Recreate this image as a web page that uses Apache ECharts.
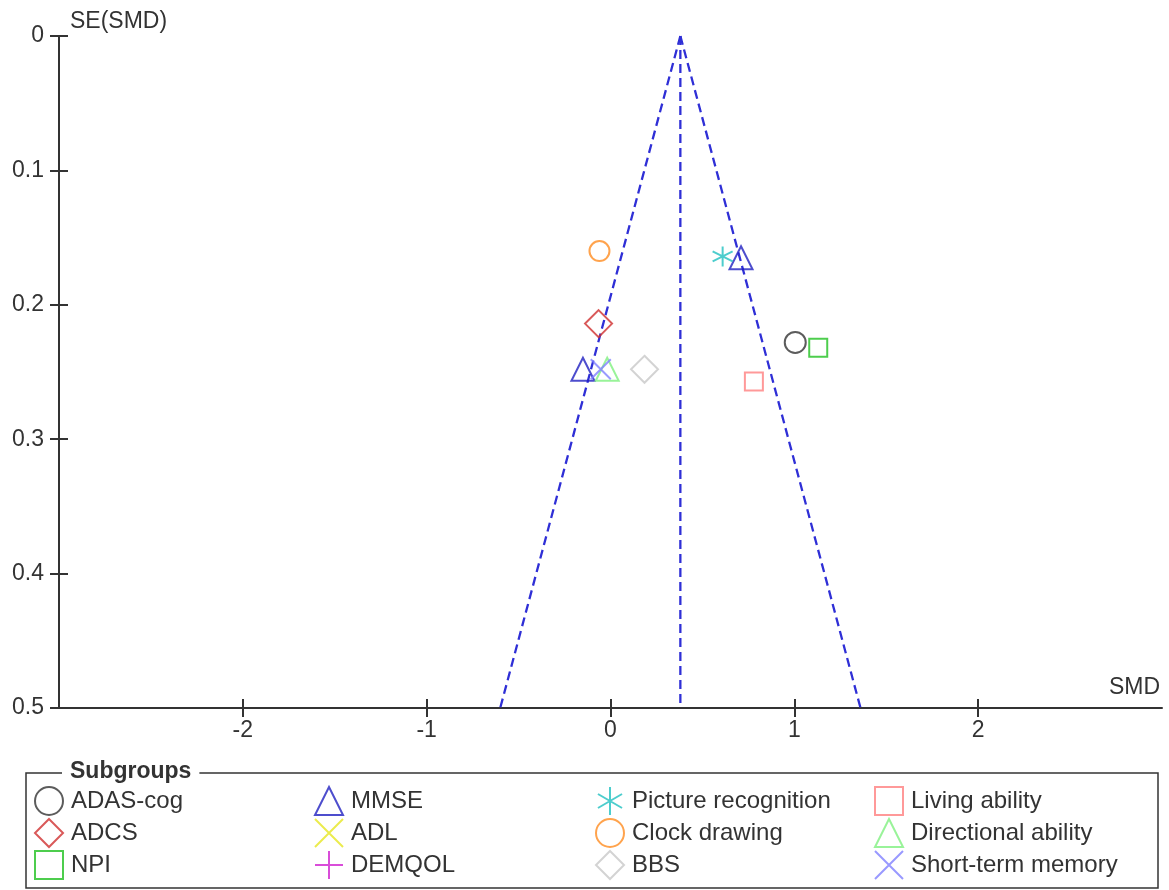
<!DOCTYPE html>
<html>
<head>
<meta charset="utf-8">
<script src="https://cdn.jsdelivr.net/npm/echarts@6/dist/echarts.min.js"></script>
<style>
html,body{margin:0;padding:0;background:#fff;}
#chart{width:1169px;height:890px;}
</style>
</head>
<body>
<div id="chart"></div>
<script>
// ---- data ----
const subgroups = ['ADAS-cog','ADCS','NPI','MMSE','ADL','DEMQOL','Picture recognition','Clock drawing','BBS','Living ability','Directional ability','Short-term memory'];
// each point: [SMD, SE(SMD)]
const adasCog = [[1.005, 0.228]];
const adcs = [[-0.065, 0.214]];
const npi = [[1.13, 0.232]];
const mmse = [[0.71, 0.165], [-0.15, 0.248]];
const adl = [];
const demqol = [];
const pictureRecognition = [[0.61, 0.164]];
const clockDrawing = [[-0.06, 0.160]];
const bbs = [[0.185, 0.248]];
const livingAbility = [[0.78, 0.257]];
const directionalAbility = [[-0.018, 0.248]];
const shortTermMemory = [[-0.053, 0.248]];

const pooledSMD = 0.38;
const funnelLeft = [[0.38, 0], [-0.60, 0.5]];
const funnelRight = [[0.38, 0], [1.36, 0.5]];
const funnelCenter = [[0.38, 0], [0.38, 0.5]];

const xTicks = [-2, -1, 0, 1, 2];
const yTicks = [0, 0.1, 0.2, 0.3, 0.4, 0.5];

// ---- styles ----
const FONT = "'Liberation Sans', Arial, sans-serif";
const TXT = '#333';
const P_ASTER = 'path://M5,0L5,10M0.7,2.5L9.3,7.5M0.7,7.5L9.3,2.5';
const P_X = 'path://M0,0L10,10M10,0L0,10';
const P_PLUS = 'path://M5,0L5,10M0,5L10,5';

const styleMap = {
  'ADAS-cog': {data: adasCog, symbol: 'circle', size: 21, color: '#333333'},
  'ADCS': {data: adcs, symbol: 'diamond', size: 27, color: '#d03030'},
  'NPI': {data: npi, symbol: 'rect', size: 18, color: '#20c020'},
  'MMSE': {data: mmse, symbol: 'triangle', size: 23, color: '#2020c0'},
  'ADL': {data: adl, symbol: P_X, size: 20, color: '#e6e620'},
  'DEMQOL': {data: demqol, symbol: P_PLUS, size: 20, color: '#d020d0'},
  'Picture recognition': {data: pictureRecognition, symbol: P_ASTER, size: 20, color: '#20c0c0'},
  'Clock drawing': {data: clockDrawing, symbol: 'circle', size: 20, color: '#ff8c20'},
  'BBS': {data: bbs, symbol: 'diamond', size: 27, color: '#c8c8c8'},
  'Living ability': {data: livingAbility, symbol: 'rect', size: 18, color: '#ff8080'},
  'Directional ability': {data: directionalAbility, symbol: 'triangle', size: 23, color: '#80f080'},
  'Short-term memory': {data: shortTermMemory, symbol: P_X, size: 20, color: '#8080ff'}
};

const series = subgroups.map(name => {
  const s = styleMap[name];
  return {
    name: name,
    type: 'scatter',
    data: s.data,
    symbol: s.symbol,
    symbolSize: s.size,
    color: s.color,
    itemStyle: {color: 'rgba(0,0,0,0)', borderColor: s.color, borderWidth: 2},
    emphasis: {disabled: true},
    z: 3
  };
});

const funnelLine = (d) => ({
  type: 'line', data: d, symbol: 'none', silent: true, z: 2,
  lineStyle: {color: '#2f2fd6', width: 2.3, type: [9, 5]}
});
series.push(funnelLine(funnelLeft), funnelLine(funnelRight), funnelLine(funnelCenter));

const legendCols = [
  {left: 34, items: subgroups.slice(0, 3)},
  {left: 314, items: subgroups.slice(3, 6)},
  {left: 595, items: subgroups.slice(6, 9)},
  {left: 874, items: subgroups.slice(9, 12)}
];
const legends = legendCols.map(c => ({
  data: c.items,
  orient: 'vertical',
  left: c.left,
  top: 786,
  height: 102,
  padding: 0,
  itemWidth: 28,
  itemHeight: 28,
  itemGap: 2,
  selectedMode: false,
  itemStyle: {borderWidth: 2},
  textStyle: {fontFamily: FONT, fontSize: 24, color: TXT, lineHeight: 28, padding: [0, 0, 0, 3]}
}));

const axisCommonX = {
  type: 'value', min: -3, max: 3, interval: 1, position: 'bottom',
  splitLine: {show: false}
};
const axisCommonY = {
  type: 'value', min: 0, max: 0.5, interval: 0.1, inverse: true, position: 'left',
  splitLine: {show: false}
};

const option = {
  backgroundColor: '#fff',
  animation: false,
  grid: {left: 59, top: 36, right: 7, bottom: 182, containLabel: false, outerBoundsMode: 'none'},
  legend: legends,
  xAxis: [
    Object.assign({}, axisCommonX, {
      axisLine: {show: true, onZero: false, lineStyle: {color: TXT, width: 2}},
      axisTick: {show: true, inside: false, length: 9, customValues: xTicks, lineStyle: {color: TXT, width: 2}},
      axisLabel: {show: true, customValues: xTicks, margin: 11, fontFamily: FONT, fontSize: 23, color: TXT}
    }),
    Object.assign({}, axisCommonX, {
      axisLine: {show: false, onZero: false},
      axisTick: {show: true, inside: true, length: 9, customValues: xTicks, lineStyle: {color: TXT, width: 2}},
      axisLabel: {show: false}
    })
  ],
  yAxis: [
    Object.assign({}, axisCommonY, {
      axisLine: {show: true, onZero: false, lineStyle: {color: TXT, width: 2}},
      axisTick: {show: true, inside: false, length: 9, customValues: yTicks, lineStyle: {color: TXT, width: 2}},
      axisLabel: {show: true, customValues: yTicks, margin: 15, fontFamily: FONT, fontSize: 23, color: TXT,
        formatter: v => String(Math.round(v * 10) / 10)}
    }),
    Object.assign({}, axisCommonY, {
      axisLine: {show: false, onZero: false},
      axisTick: {show: true, inside: true, length: 9, customValues: yTicks, lineStyle: {color: TXT, width: 2}},
      axisLabel: {show: false}
    })
  ],
  graphic: [
    {type: 'text', left: 70, top: 10, silent: true,
      style: {text: 'SE(SMD)', font: '23px ' + FONT, fill: TXT}},
    {type: 'text', right: 9, top: 676, silent: true,
      style: {text: 'SMD', font: '23px ' + FONT, fill: TXT}},
    {type: 'rect', silent: true, z: 0,
      shape: {x: 26, y: 773, width: 1132, height: 115},
      style: {fill: 'none', stroke: '#333', lineWidth: 1.5}},
    {type: 'text', left: 62, top: 760, silent: true, z: 5,
      style: {text: 'Subgroups', font: 'bold 23px ' + FONT, fill: TXT, backgroundColor: '#fff', padding: [0, 8]}}
  ],
  series: series
};

const chart = echarts.init(document.getElementById('chart'), null, {renderer: 'canvas'});
chart.setOption(option);
</script>
</body>
</html>
